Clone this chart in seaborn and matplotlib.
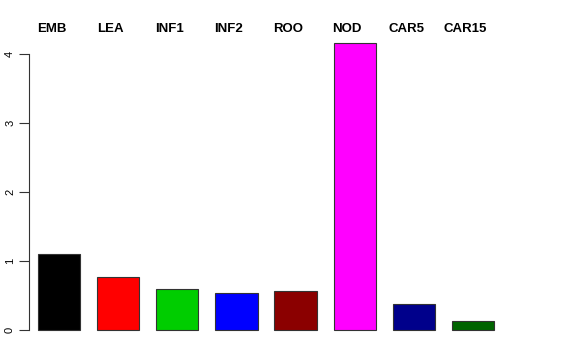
import matplotlib
matplotlib.use("Agg")
import matplotlib.pyplot as plt
import seaborn as sns
import pandas as pd

categories = ["EMB", "LEA", "INF1", "INF2", "ROO", "NOD", "CAR5", "CAR15"]
values = [1.10, 0.77, 0.60, 0.54, 0.565, 4.16, 0.38, 0.13]
colors = ["#000000", "#FF0000", "#00CD00", "#0000FF", "#8B0000", "#FF00FF", "#00008B", "#006400"]
yticks = [0, 1, 2, 3, 4]

sns.set_style("white")
plt.rcParams['font.family'] = ['Liberation Sans', 'DejaVu Sans']
plt.rcParams['text.color'] = 'black'
plt.rcParams['ytick.color'] = 'black'

df = pd.DataFrame({"cat": categories, "val": values})

W, H = 576, 360
fig = plt.figure(figsize=(W / 100, H / 100), dpi=100)
left, right, top, bottom = 29, 560, 31, 340
ax = fig.add_axes([left / W, 1 - bottom / H, (right - left) / W, (bottom - top) / H])

sns.barplot(data=df, x="cat", y="val", hue="cat", palette=colors, width=0.714,
            edgecolor="#333333", linewidth=0.8, legend=False, ax=ax, saturation=1)

ppu = 59.14
ax.set_xlim((left - 59) / ppu, (right - 59) / ppu)
ypu = 69.0
ax.set_ylim(-(bottom - 330) / ypu, (330 - top) / ypu)

for s in ["top", "right", "bottom"]:
    ax.spines[s].set_visible(False)
ax.spines["left"].set_bounds(0, 4)
ax.spines["left"].set_color("#333333")
ax.spines["left"].set_linewidth(0.8)
ax.set_xticks([])
ax.set_yticks(yticks)
ax.set_yticklabels([str(t) for t in yticks], rotation=90, va="center", fontsize=8, color="black")
ax.tick_params(axis="y", direction="out", length=7, width=0.8, color="#333333", pad=3, left=True)
ax.set_xlabel("")
ax.set_ylabel("")

ylab = (330 - 29.5) / ypu
for i, c in enumerate(categories):
    ax.text(i - 7.5 / ppu, ylab, c, ha="center", va="center", fontsize=9.5,
            fontweight="bold", color="black", clip_on=False)

fig.savefig("out.png", dpi=100)
